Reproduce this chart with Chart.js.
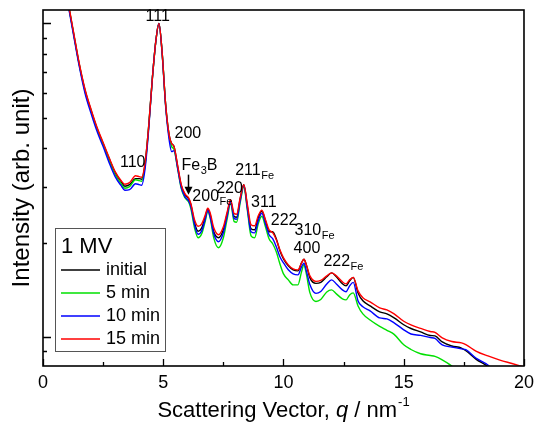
<!DOCTYPE html>
<html><head><meta charset="utf-8">
<script src="https://cdn.jsdelivr.net/npm/chart.js@4/dist/chart.umd.min.js"></script>
<style>html,body{margin:0;padding:0;background:#fff}#wrap{width:540px;height:423px;position:relative}</style>
</head><body><div id="wrap"><canvas id="c"></canvas></div>
<script>
// ---- data ----
const q = [1.0,1.1,1.25,1.5,1.75,2.0,2.25,2.5,2.75,3.0,3.25,3.4,3.6,3.85,4.0,4.1,4.25,4.4,4.55,4.7,4.82,4.95,5.1,5.25,5.35,5.45,5.6,5.75,5.9,6.05,6.15,6.3,6.45,6.6,6.75,6.85,6.95,7.1,7.3,7.5,7.65,7.8,7.95,8.05,8.2,8.35,8.5,8.65,8.8,8.95,9.1,9.25,9.4,9.55,9.7,9.85,10.0,10.2,10.4,10.6,10.75,10.85,10.95,11.1,11.35,11.55,11.8,12.0,12.2,12.45,12.6,12.75,12.9,13.1,13.3,13.6,14.0,14.3,14.6,15.0,15.3,15.7,16.1,16.3,16.6,17.0,17.4,17.6,18.0,18.5,19.0,19.5,20.0];

const initialI = [1.220,1.100,0.950,0.7452,0.6108,0.5274,0.4619,0.4136,0.3704,0.3342,
0.3127,0.3025,0.3060,0.3197,0.3197,0.3185,0.3596,0.4757,0.6721,0.8889,
1.000,0.8139,0.5512,0.4387,0.4136,0.4046,0.3492,0.3037,0.2842,0.2760,
0.2641,0.2313,0.2173,0.2229,0.2418,0.2554,0.2453,0.2164,0.2072,0.2197,
0.2453,0.2720,0.2418,0.2409,0.2760,0.3059,0.2601,0.2213,0.2196,0.2400,
0.2517,0.2348,0.2165,0.2166,0.2056,0.1883,0.1775,0.1686,0.1637,0.1625,
0.1723,0.1769,0.1698,0.1543,0.1482,0.1493,0.1555,0.1601,0.1555,0.1477,
0.1455,0.1510,0.1549,0.1382,0.1304,0.1256,0.1202,0.1185,0.1151,0.1094,
0.1064,0.1038,0.1011,0.1008,0.0964,0.0936,0.0922,0.0902,0.0850,0.0805,
0.0745,null,null];

const min5I = [1.215,1.096,0.946,0.7425,0.6063,0.5235,0.4585,0.4106,0.3650,0.3294,
0.3081,0.2981,0.3015,0.3173,0.3150,0.3138,0.3544,0.4722,0.6721,0.8889,
1.000,0.8139,0.5472,0.4323,0.4046,0.3958,0.3441,0.2970,0.2780,0.2699,
0.2564,0.2230,0.2071,0.2133,0.2348,0.2517,0.2399,0.2071,0.1925,0.2071,
0.2364,0.2661,0.2331,0.2322,0.2680,0.3014,0.2526,0.2102,0.2071,0.2297,
0.2426,0.2246,0.2056,0.1983,0.1869,0.1711,0.1589,0.1521,0.1466,0.1466,
0.1613,0.1699,0.1589,0.1382,0.1298,0.1317,0.1392,0.1413,0.1372,0.1323,
0.1313,0.1362,0.1382,0.1256,0.1185,0.1133,0.1081,0.1050,0.1019,0.0944,
0.0912,0.0884,0.0873,0.0867,0.0845,0.0807,0.0756,null,null,null,
null,null,null];

const min10I = [1.202,1.084,0.936,0.7343,0.5975,0.5159,0.4518,0.4046,0.3596,0.3245,
0.3036,0.2937,0.2949,0.3081,0.3059,0.3047,0.3466,0.4653,0.6721,0.8889,
1.000,0.8079,0.5431,0.4229,0.3900,0.3929,0.3441,0.2992,0.2801,0.2719,
0.2602,0.2280,0.2125,0.2181,0.2383,0.2535,0.2417,0.2133,0.2012,0.2149,
0.2417,0.2700,0.2383,0.2374,0.2719,0.3037,0.2563,0.2165,0.2148,0.2348,
0.2481,0.2296,0.2118,0.2057,0.1939,0.1802,0.1723,0.1637,0.1589,0.1578,
0.1673,0.1718,0.1625,0.1466,0.1377,0.1397,0.1476,0.1521,0.1476,0.1413,
0.1393,0.1455,0.1493,0.1303,0.1248,0.1211,0.1150,0.1142,0.1109,0.1054,
0.1022,0.1012,0.0996,0.0989,0.0943,0.0929,0.0916,0.0909,0.0857,0.0814,
0.0742,null,null];

const min15I = [1.229,1.108,0.957,0.7507,0.6153,0.5313,0.4653,0.4167,0.3731,0.3367,
0.3150,0.3070,0.3105,0.3268,0.3244,0.3232,0.3623,0.4757,0.6721,0.8889,
1.000,0.8139,0.5512,0.4387,0.4136,0.4046,0.3518,0.3059,0.2863,0.2780,
0.2660,0.2365,0.2254,0.2296,0.2454,0.2573,0.2489,0.2229,0.2118,0.2246,
0.2489,0.2740,0.2472,0.2463,0.2780,0.3059,0.2640,0.2279,0.2262,0.2436,
0.2536,0.2365,0.2197,0.2150,0.2041,0.1897,0.1788,0.1698,0.1649,0.1637,
0.1723,0.1769,0.1698,0.1566,0.1504,0.1515,0.1566,0.1601,0.1566,0.1499,
0.1477,0.1521,0.1549,0.1403,0.1333,0.1294,0.1238,0.1220,0.1185,0.1122,
0.1092,0.1065,0.1041,0.1034,0.0993,0.0967,0.0957,0.0943,0.0902,0.0870,
0.0844,0.0823,0.0802];

const seriesLabels = ['initial','5 min','10 min','15 min'];
const legendTitle = '1 MV';
const xMajorTicks = [0,5,10,15,20];
const xMinorTicks = [2.5,7.5,12.5,17.5];
const yMajorTicks = [0.1,1];
const yMinorTicks = [0.09,0.2,0.3,0.4,0.5,0.6,0.7,0.8,0.9];
const yTitle = 'Intensity (arb. unit)';
const xTitleParts = ['Scattering Vector, ','q',' / nm','-1'];

// peak labels (anchored in data coordinates)
const peakLabels = [
  {t:'111', q:4.77, I:1.049, center:true},
  {t:'110', q:3.20, I:0.361},
  {t:'200', q:5.47, I:0.4453},
  {t:'Fe', s:'3', a:'B', q:5.76, I:0.3518},
  {t:'200', s:'Fe', q:6.21, I:0.2801},
  {t:'220', q:7.20, I:0.2971},
  {t:'211', s:'Fe', q:7.99, I:0.3392},
  {t:'311', q:8.65, I:0.2680},
  {t:'222', q:9.47, I:0.2348},
  {t:'310', s:'Fe', q:10.46, I:0.2182},
  {t:'400', q:10.42, I:0.1911},
  {t:'222', s:'Fe', q:11.66, I:0.1736}
];
const arrowMark = {q:6.05, from:0.3293, to:0.2842};

const colors = ['#000000','#00e000','#0000ff','#ff0000'];
const FONT = '"Liberation Sans", Arial, Helvetica, sans-serif';

function pts(arr){ return q.map((x,i)=>({x:x, y:arr[i]})); }
const seriesData = [initialI, min5I, min10I, min15I];
const orders = [3,2,1,0];

const decor = {
  id:'decor',
  afterDatasetsDraw(chart){
    const ctx = chart.ctx, a = chart.chartArea;
    const xs = chart.scales.x, ys = chart.scales.y;
    ctx.save();
    ctx.strokeStyle = '#000';
    // inward ticks
    ctx.lineWidth = 1.3;
    ctx.beginPath();
    xMajorTicks.forEach(v=>{const px=Math.round(xs.getPixelForValue(v))+0.5; ctx.moveTo(px,a.bottom); ctx.lineTo(px,a.bottom-7);});
    xMinorTicks.forEach(v=>{const px=Math.round(xs.getPixelForValue(v))+0.5; ctx.moveTo(px,a.bottom); ctx.lineTo(px,a.bottom-4);});
    yMajorTicks.forEach(v=>{const py=Math.round(ys.getPixelForValue(v))+0.5; ctx.moveTo(a.left,py); ctx.lineTo(a.left+8,py);});
    yMinorTicks.forEach(v=>{const py=Math.round(ys.getPixelForValue(v))+0.5; ctx.moveTo(a.left,py); ctx.lineTo(a.left+4,py);});
    ctx.stroke();
    // frame
    ctx.lineWidth = 1.6;
    ctx.strokeRect(a.left, a.top, a.right-a.left, a.bottom-a.top);

    // peak labels
    ctx.fillStyle = '#000';
    ctx.textBaseline = 'middle';
    peakLabels.forEach(L=>{
      let x = xs.getPixelForValue(L.q), y = ys.getPixelForValue(L.I);
      ctx.font = '16px '+FONT;
      let w = ctx.measureText(L.t).width;
      ctx.textAlign = 'left';
      if (L.center) x -= w/2;
      ctx.fillText(L.t, x, y);
      x += w;
      if (L.s){
        ctx.font = '11px '+FONT;
        ctx.fillText(L.s, x+0.5, y+5);
        x += ctx.measureText(L.s).width + 0.5;
      }
      if (L.a){
        ctx.font = '16px '+FONT;
        ctx.fillText(L.a, x, y);
      }
    });
    // arrow
    const ax = xs.getPixelForValue(arrowMark.q);
    const ay1 = ys.getPixelForValue(arrowMark.from), ay2 = ys.getPixelForValue(arrowMark.to);
    ctx.lineWidth = 1.5;
    ctx.beginPath(); ctx.moveTo(ax, ay1); ctx.lineTo(ax, ay2-3); ctx.stroke();
    ctx.beginPath(); ctx.moveTo(ax-4, ay2-8); ctx.lineTo(ax, ay2); ctx.lineTo(ax+4, ay2-8); ctx.closePath(); ctx.fill();

    // legend
    const lx = a.left+12, ly = 228, lw = 110, lh = 123;
    ctx.fillStyle = '#fff';
    ctx.fillRect(lx, ly, lw, lh);
    ctx.strokeStyle = '#555'; ctx.lineWidth = 1;
    ctx.strokeRect(lx+0.5, ly+0.5, lw, lh);
    ctx.fillStyle = '#000';
    ctx.font = '22px '+FONT; ctx.textAlign='left'; ctx.textBaseline='middle';
    ctx.fillText(legendTitle, lx+6, ly+19);
    seriesLabels.forEach((lab,i)=>{
      const ry = ly + 42 + Math.round(i*23);
      ctx.strokeStyle = colors[i]; ctx.lineWidth = 1.5;
      ctx.beginPath(); ctx.moveTo(lx+6, ry); ctx.lineTo(lx+45, ry); ctx.stroke();
      ctx.fillStyle = '#000'; ctx.font = '18px '+FONT;
      ctx.fillText(lab, lx+51, ry);
    });

    // axis titles
    ctx.fillStyle='#000';
    ctx.save();
    ctx.translate(22, (a.top+a.bottom)/2);
    ctx.rotate(-Math.PI/2);
    ctx.font = '24px '+FONT; ctx.textAlign='center'; ctx.textBaseline='middle';
    ctx.fillText(yTitle, 0, 0);
    ctx.restore();

    const fN = '22px '+FONT, fI = 'italic 22px '+FONT, fS = '13px '+FONT;
    ctx.textAlign='left'; ctx.textBaseline='alphabetic';
    ctx.font=fN; const w0=ctx.measureText(xTitleParts[0]).width;
    ctx.font=fI; const w1=ctx.measureText(xTitleParts[1]).width;
    ctx.font=fN; const w2=ctx.measureText(xTitleParts[2]).width;
    ctx.font=fS; const w3=ctx.measureText(xTitleParts[3]).width;
    let tx = (a.left+a.right)/2 - (w0+w1+w2+w3+1)/2, ty = 417;
    ctx.font=fN; ctx.fillText(xTitleParts[0], tx, ty); tx+=w0;
    ctx.font=fI; ctx.fillText(xTitleParts[1], tx, ty); tx+=w1;
    ctx.font=fN; ctx.fillText(xTitleParts[2], tx, ty); tx+=w2+1;
    ctx.font=fS; ctx.fillText(xTitleParts[3], tx, ty-11);
    ctx.restore();
  }
};

new Chart(document.getElementById('c'), {
  type:'line',
  data:{
    datasets: seriesLabels.map((lab,i)=>({
      label: lab,
      data: pts(seriesData[i]),
      borderColor: colors[i],
      borderWidth: 1.4,
      pointRadius: 0,
      fill: false,
      cubicInterpolationMode: 'monotone',
      spanGaps: false,
      order: orders[i]
    }))
  },
  options:{
    responsive:true, maintainAspectRatio:false, animation:false,
    layout:{padding:{top:10, right:12, left:0, bottom:0}},
    plugins:{legend:{display:false}, tooltip:{enabled:false}},
    scales:{
      x:{type:'linear', min:0, max:20,
        grid:{display:false, drawTicks:false}, border:{display:false},
        ticks:{stepSize:5, color:'#000', padding:6, font:{size:18, family:FONT}, maxRotation:0},
        afterFit(s){ s.height = 57; }
      },
      y:{type:'logarithmic', min:0.0808, max:1.103,
        grid:{display:false, drawTicks:false}, border:{display:false},
        ticks:{display:false},
        afterFit(s){ s.width = 43; }
      }
    }
  },
  plugins:[decor]
});
</script>
</body></html>
